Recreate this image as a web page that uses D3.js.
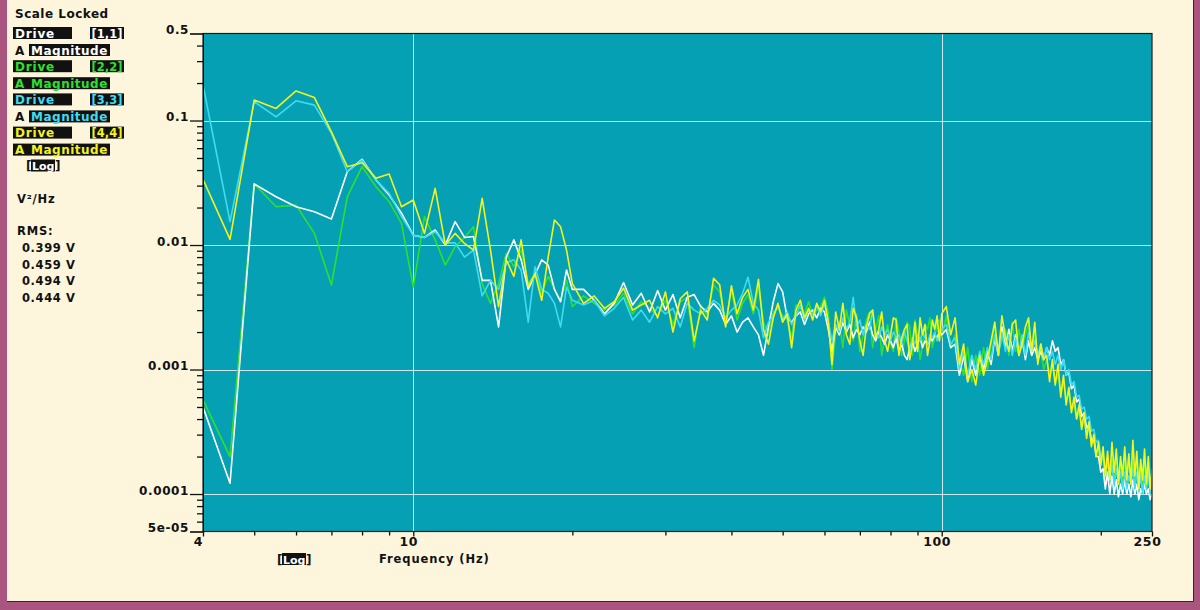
<!DOCTYPE html>
<html>
<head>
<meta charset="utf-8">
<script src="https://cdn.jsdelivr.net/npm/d3@7"></script>
<style>
  body { margin: 0; background: #fdf6dc; }
  svg text { font-family: "DejaVu Sans", sans-serif; font-weight: bold; }
</style>
</head>
<body>
<div id="chart"></div>
<script>
const width = 1200, height = 610;
const plot = { left: 203, right: 1152, top: 33.5, bottom: 531.5 };

// frequency grid of the analyser (Hz)
const freqLow = d3.range(4, 20.01, 0.5);   // 4 .. 20
const freqMid = d3.range(21, 101, 1);      // 21 .. 100
const freqHigh = d3.range(102, 251, 2);    // 102 .. 250
const freq = freqLow.concat(freqMid, freqHigh);

const channels = ["[1,1]", "[2,2]", "[3,3]", "[4,4]"];
const colors = ["#ffffff", "#2ee02e", "#3fdcf0", "#f4f41c"];
const rmsLabels = ["0.399 V", "0.459 V", "0.494 V", "0.444 V"];
const aBoxed = [false, true, false, true];

const yTicks = [0.5, 0.1, 0.01, 0.001, 0.0001, 5e-5];
const yTickLabels = ["0.5", "0.1", "0.01", "0.001", "0.0001", "5e-05"];
const xTicks = [4, 10, 100, 250];
const xTickLabels = ["4", "10", "100", "250"];

// PSD values V^2/Hz, one per frequency
const drive11 = [
  0.0005, 0.000122, 0.031, 0.0244, 0.0203, 0.0185, 0.0162, 0.0388, 0.0488, 0.0333,
  0.0252, 0.018, 0.012, 0.0115, 0.0132, 0.010, 0.0154, 0.0115, 0.0117, 0.0052,
  0.0052, 0.0022, 0.008, 0.011, 0.0076, 0.0044, 0.0058, 0.0076, 0.0069, 0.0044,
  0.0035, 0.0063, 0.0044,
  0.0044, 0.0036, 0.0028, 0.0034, 0.0050, 0.0033, 0.0041, 0.0029, 0.0043, 0.0030, 0.0040, 0.0026, 0.0038, 0.0040,
  0.0032, 0.0029, 0.0034, 0.0030, 0.0023, 0.0027, 0.0020, 0.0024, 0.0026, 0.0022,
  0.0019, 0.0013, 0.0022, 0.0035, 0.0049, 0.0042, 0.0026, 0.0024, 0.0027, 0.0029,
  0.0023, 0.0028, 0.0030, 0.0026, 0.0031, 0.0029,
  0.0021, 0.0014, 0.0022, 0.0019, 0.0024, 0.0020, 0.0023, 0.0018, 0.0021, 0.0019,
  0.0022, 0.0020, 0.0024, 0.0019, 0.0017, 0.0020, 0.0018, 0.0016, 0.0019, 0.0017,
  0.0015, 0.0018, 0.0014, 0.0016, 0.0013, 0.0012, 0.0015, 0.0017, 0.0014, 0.0016,
  0.0018, 0.0015, 0.0017, 0.0016, 0.0018, 0.0017, 0.0019, 0.0018, 0.0020, 0.0019,
  0.0021, 0.0015, 0.0016, 0.0009, 0.0013, 0.0008, 0.0012, 0.0009, 0.0013, 0.0010,
  0.0014, 0.0011, 0.0018, 0.0013, 0.0022, 0.0015, 0.0021, 0.0014, 0.0019, 0.0013,
  0.0018, 0.0012, 0.0017, 0.0013, 0.0015, 0.0012, 0.0014, 0.0012, 0.0015, 0.0013,
  0.0017, 0.0014, 0.0015, 0.0011, 0.0012, 0.0009, 0.00095, 0.0007, 0.00075, 0.00055,
  0.00058, 0.00042, 0.00045, 0.00034, 0.00036, 0.00027, 0.00028, 0.0002, 0.0002, 0.00015,
  0.00016, 0.00011, 0.00015, 0.0001, 0.00014, 0.0001, 0.00013, 0.000095, 0.00012, 0.0001,
  0.00013, 0.0001, 0.00012, 0.000095, 0.00013, 0.0001, 0.00012, 0.00009, 0.00011, 0.0001,
  0.00012, 0.0001, 0.00011, 0.00009, 0.0001
];
const drive22 = [
  0.00057, 0.0002, 0.031, 0.0203, 0.0209, 0.0124, 0.00477, 0.0244, 0.0426, 0.0294,
  0.0223, 0.0149, 0.0046, 0.0169, 0.011, 0.0069, 0.0097, 0.0115, 0.014, 0.0049,
  0.0034, 0.0049, 0.0086, 0.0067, 0.0091, 0.0049, 0.0059, 0.0041, 0.0056, 0.0044,
  0.0036, 0.0052, 0.0032,
  0.0039, 0.0034, 0.0030, 0.0033, 0.0041, 0.0028, 0.0035, 0.0031, 0.0027, 0.0036, 0.0023, 0.0035, 0.0038, 0.0015,
  0.0033, 0.0027, 0.0048, 0.0042, 0.0024, 0.0043, 0.0025, 0.0034, 0.0040, 0.0028,
  0.0046, 0.0024, 0.0019, 0.0029, 0.0031, 0.0027, 0.0025, 0.0018, 0.0033, 0.0031,
  0.0028, 0.0035, 0.0027, 0.0030, 0.0032, 0.0038,
  0.0029, 0.0010, 0.0020, 0.0024, 0.0015, 0.0030, 0.0023, 0.0017, 0.0028, 0.0014,
  0.0019, 0.0025, 0.0029, 0.0015, 0.0021, 0.0027, 0.0013, 0.0018, 0.0023, 0.0016,
  0.0014, 0.0026, 0.0020, 0.0013, 0.0017, 0.0024, 0.0022, 0.0013, 0.0025, 0.0019,
  0.0012, 0.0016, 0.0023, 0.0021, 0.0026, 0.0015, 0.0018, 0.0024, 0.0025, 0.0018,
  0.0027, 0.0015, 0.0019, 0.0012, 0.0009, 0.0015, 0.0008, 0.0013, 0.0009, 0.0015,
  0.0010, 0.0016, 0.0022, 0.0014, 0.0017, 0.0021, 0.0013, 0.0024, 0.0014, 0.0021,
  0.0015, 0.0019, 0.0023, 0.0013, 0.0020, 0.0012, 0.0014, 0.0010, 0.0012, 0.0009,
  0.0011, 0.0008, 0.0009, 0.00065, 0.0008, 0.00058, 0.00064, 0.00048, 0.00052, 0.0004,
  0.00046, 0.00034, 0.0004, 0.0003, 0.00034, 0.00025, 0.00028, 0.00021, 0.00023, 0.00017,
  0.00021, 0.00013, 0.0002, 0.00014, 0.00019, 0.00013, 0.00021, 0.00014, 0.00018, 0.00012,
  0.00019, 0.00013, 0.0002, 0.00014, 0.00018, 0.00012, 0.00019, 0.00013, 0.00017, 0.00011,
  0.00018, 0.00012, 0.00016, 0.0001, 0.00013
];
const drive33 = [
  0.193, 0.0154, 0.142, 0.107, 0.144, 0.133, 0.079, 0.0388, 0.048, 0.0333,
  0.026, 0.0169, 0.012, 0.0115, 0.0128, 0.0104, 0.0104, 0.008, 0.0091, 0.0039,
  0.0052, 0.0044, 0.0072, 0.0076, 0.0063, 0.0024, 0.0067, 0.0044, 0.0041, 0.0034,
  0.0022, 0.0046, 0.0036,
  0.0033, 0.0036, 0.0027, 0.0031, 0.0038, 0.0025, 0.0030, 0.0024, 0.0032, 0.0028, 0.0031, 0.0022, 0.0034, 0.0030,
  0.0028, 0.0031, 0.0036, 0.0033, 0.0026, 0.0030, 0.0033, 0.0041, 0.0055, 0.0034,
  0.0030, 0.0018, 0.0024, 0.0027, 0.0033, 0.0025, 0.0029, 0.0023, 0.0027, 0.0033,
  0.0025, 0.0030, 0.0028, 0.0033, 0.0027, 0.0034,
  0.0024, 0.0017, 0.0023, 0.0020, 0.0026, 0.0021, 0.0024, 0.0038, 0.0022, 0.0025,
  0.0019, 0.0023, 0.0021, 0.0030, 0.0020, 0.0018, 0.0022, 0.0019, 0.0021, 0.0017,
  0.0020, 0.0018, 0.0019, 0.0016, 0.0020, 0.0017, 0.0014, 0.0018, 0.0016, 0.0019,
  0.0017, 0.0020, 0.0018, 0.0016, 0.0019, 0.0018, 0.0020, 0.0017, 0.0019, 0.0021,
  0.0023, 0.0016, 0.0018, 0.0010, 0.0014, 0.0009, 0.0013, 0.0010, 0.0014, 0.0011,
  0.0015, 0.0012, 0.0019, 0.0013, 0.0020, 0.0014, 0.0019, 0.0013, 0.0018, 0.0014,
  0.0019, 0.0013, 0.0020, 0.0014, 0.0017, 0.0013, 0.0016, 0.0012, 0.0015, 0.0012,
  0.0014, 0.0011, 0.0013, 0.0010, 0.0012, 0.0009, 0.001, 0.00075, 0.0008, 0.0006,
  0.00062, 0.00048, 0.0005, 0.0004, 0.00042, 0.00032, 0.00033, 0.00026, 0.00027, 0.0002,
  0.0002, 0.00015, 0.00018, 0.00013, 0.00017, 0.00012, 0.00016, 0.00012, 0.00015, 0.00011,
  0.00015, 0.00011, 0.00014, 0.00012, 0.00016, 0.00011, 0.00015, 0.00011, 0.00014, 0.0001,
  0.00014, 0.00011, 0.00015, 0.0001, 0.00013
];
const drive44 = [
  0.0337, 0.0111, 0.146, 0.125, 0.173, 0.153, 0.081, 0.0426, 0.0458, 0.0344,
  0.0372, 0.0203, 0.023, 0.0124, 0.0285, 0.010, 0.0124, 0.0103, 0.0091, 0.0237,
  0.0091, 0.0032, 0.0076, 0.0056, 0.011, 0.0046, 0.0059, 0.0036, 0.008, 0.0159,
  0.014, 0.0091, 0.0049,
  0.0034, 0.0039, 0.0031, 0.0035, 0.0045, 0.0030, 0.0033, 0.0036, 0.0026, 0.0042, 0.0020, 0.0037, 0.0042, 0.0017,
  0.0030, 0.0025, 0.0054, 0.0048, 0.0022, 0.0047, 0.0028, 0.0038, 0.0044, 0.0030,
  0.0053, 0.0021, 0.0016, 0.0026, 0.0034, 0.0024, 0.0028, 0.0015, 0.0030, 0.0036,
  0.0026, 0.0031, 0.0025, 0.0034, 0.0029, 0.0036,
  0.0024, 0.0011, 0.0029, 0.0021, 0.0034, 0.0019, 0.0016, 0.0031, 0.0026, 0.0017,
  0.0013, 0.0022, 0.0028, 0.0030, 0.0018, 0.0021, 0.0029, 0.0017, 0.0014, 0.0019,
  0.0026, 0.0025, 0.0013, 0.0018, 0.0021, 0.0023, 0.0012, 0.0016, 0.0024, 0.0014,
  0.0026, 0.0019, 0.0023, 0.0013, 0.0017, 0.0025, 0.0021, 0.0027, 0.0017, 0.0028,
  0.0032, 0.0019, 0.0026, 0.0011, 0.0016, 0.0008, 0.0010, 0.00075, 0.0013, 0.0009,
  0.0012, 0.0017, 0.0024, 0.0013, 0.0027, 0.0018, 0.0014, 0.0023, 0.0025, 0.0013,
  0.0016, 0.0022, 0.0026, 0.0014, 0.0024, 0.0011, 0.0016, 0.0012, 0.0013, 0.0008,
  0.0012, 0.00075, 0.0011, 0.0006, 0.0009, 0.00052, 0.00072, 0.00045, 0.0006, 0.0004,
  0.00052, 0.00033, 0.00045, 0.00028, 0.00038, 0.00024, 0.0003, 0.0002, 0.00026, 0.00017,
  0.00024, 0.00014, 0.00022, 0.00013, 0.00026, 0.00015, 0.00023, 0.00012, 0.0002, 0.00014,
  0.00024, 0.00013, 0.00021, 0.00012, 0.00027, 0.00014, 0.00022, 0.00011, 0.00019, 0.00013,
  0.00023, 0.00012, 0.0002, 0.00011, 0.00016
];
const seriesValues = [drive11, drive22, drive33, drive44];
const drawOrder = [1, 0, 2, 3]; // green, white, cyan, yellow on top

const svg = d3.select("#chart").append("svg")
  .attr("width", width).attr("height", height);

// window frame
svg.append("rect").attr("width", width).attr("height", height).attr("fill", "#a9557f");
svg.append("rect").attr("x", 7).attr("y", 0).attr("width", 1186).attr("height", 601)
  .attr("fill", "#fdf6dc");
svg.append("path").attr("d", "M1193.5,0V601.5H7").attr("fill", "none").attr("stroke", "#3b2230");

const x = d3.scaleLog().domain([4, 250]).range([plot.left, plot.right]);
const y = d3.scaleLog().domain([5e-5, 0.5]).range([plot.bottom, plot.top]);

svg.append("rect")
  .attr("x", plot.left).attr("y", plot.top)
  .attr("width", plot.right - plot.left).attr("height", plot.bottom - plot.top)
  .attr("fill", "#06a0b4");

svg.append("clipPath").attr("id", "clip").append("rect")
  .attr("x", plot.left).attr("y", plot.top)
  .attr("width", plot.right - plot.left).attr("height", plot.bottom - plot.top);

// grid
const grid = svg.append("g").attr("stroke", "#cfe6ea").attr("stroke-width", 1);
grid.selectAll(".gy").data([0.1, 0.01, 0.001, 0.0001]).join("line")
  .attr("x1", plot.left).attr("x2", plot.right)
  .attr("y1", d => Math.round(y(d)) + 0.5).attr("y2", d => Math.round(y(d)) + 0.5);
grid.selectAll(".gx").data([10, 100]).join("line")
  .attr("y1", plot.top).attr("y2", plot.bottom)
  .attr("x1", d => Math.round(x(d)) + 0.5).attr("x2", d => Math.round(x(d)) + 0.5);

// data lines
const line = d3.line()
  .x(d => x(d[0]))
  .y(d => y(d[1]));

const lines = svg.append("g").attr("clip-path", "url(#clip)");
for (const i of drawOrder) {
  const vals = seriesValues[i];
  const pts = freq.slice(0, vals.length).map((f, k) => [f, vals[k]]);
  lines.append("path")
    .datum(pts)
    .attr("d", line)
    .attr("fill", "none")
    .attr("stroke", colors[i])
    .attr("stroke-width", 1.6)
    .attr("stroke-linejoin", "round");
}

// plot frame
svg.append("rect")
  .attr("x", plot.left).attr("y", plot.top)
  .attr("width", plot.right - plot.left).attr("height", plot.bottom - plot.top)
  .attr("fill", "none").attr("stroke", "#1a1a1a").attr("stroke-width", 1.2);

// y axis
const yMinor = [];
for (const dec of [1e-5, 1e-4, 1e-3, 1e-2, 1e-1]) {
  for (let m = 2; m <= 9; m++) {
    const v = m * dec;
    if (v > 5e-5 && v < 0.5) yMinor.push(v);
  }
}
svg.append("g")
  .attr("transform", `translate(${plot.left},0)`)
  .call(d3.axisLeft(y).tickValues(yMinor).tickSize(6).tickFormat(""))
  .call(g => g.select(".domain").remove())
  .call(g => g.selectAll("line").attr("stroke", "#111").attr("stroke-width", 1.3));

svg.append("g")
  .attr("transform", `translate(${plot.left},0)`)
  .call(d3.axisLeft(y).tickValues(yTicks).tickSize(13).tickPadding(1)
    .tickFormat((d, i) => yTickLabels[i]))
  .call(g => g.select(".domain").attr("stroke", "#111"))
  .call(g => g.selectAll("line").attr("stroke", "#111").attr("stroke-width", 1.3))
  .call(g => g.selectAll("text").attr("dy", "0").attr("fill", "#111")
    .style("font-size", "12px").style("letter-spacing", "0.6px"));

// x axis
const xMinor = [5, 6, 7, 8, 9, 20, 30, 40, 50, 60, 70, 80, 90, 200];
svg.append("g")
  .attr("transform", `translate(0,${plot.bottom})`)
  .call(d3.axisBottom(x).tickValues(xMinor).tickSize(4).tickFormat(""))
  .call(g => g.select(".domain").remove())
  .call(g => g.selectAll("line").attr("stroke", "#111").attr("stroke-width", 1.3));

svg.append("g")
  .attr("transform", `translate(0,${plot.bottom})`)
  .call(d3.axisBottom(x).tickValues(xTicks).tickSize(5).tickPadding(1)
    .tickFormat((d, i) => xTickLabels[i]))
  .call(g => g.select(".domain").remove())
  .call(g => g.selectAll("line").attr("stroke", "#111").attr("stroke-width", 1.3))
  .call(g => g.selectAll("text").attr("dx", "-5").attr("fill", "#111")
    .style("font-size", "12.5px").style("letter-spacing", "0.6px"));

// bottom labels
const logBox = (gx, gy) => {
  const g = svg.append("g").attr("transform", `translate(${gx},${gy})`);
  g.append("rect").attr("x", 5).attr("y", 0).attr("width", 24).attr("height", 12).attr("fill", "#111");
  g.append("text").attr("x", 0).attr("y", 10.5).attr("fill", "#111")
    .style("font-size", "12px").text("[");
  g.append("text").attr("x", 6).attr("y", 10.5).attr("fill", "#fff")
    .style("font-size", "11px").text("Log");
  g.append("text").attr("x", 29).attr("y", 10.5).attr("fill", "#111")
    .style("font-size", "12px").text("]");
};
logBox(277, 553);
svg.append("text").attr("x", 379).attr("y", 563).attr("fill", "#111")
  .style("font-size", "11.5px").style("letter-spacing", "0.9px").text("Frequency (Hz)");

// legend panel
svg.append("text").attr("x", 15).attr("y", 18).attr("fill", "#111")
  .style("font-size", "12px").style("letter-spacing", "0.5px").text("Scale Locked");

channels.forEach((ch, i) => {
  const y0 = 27 + i * 33.2;
  const y1 = 44 + i * 33.2;
  const c = colors[i];
  svg.append("rect").attr("x", 13).attr("y", y0).attr("width", 59).attr("height", 12).attr("fill", "#111");
  svg.append("text").attr("x", 15).attr("y", y0 + 10.5).attr("fill", c)
    .style("font-size", "12px").style("letter-spacing", "0.8px").text("Drive");
  svg.append("rect").attr("x", 90).attr("y", y0).attr("width", 34).attr("height", 12).attr("fill", "#111");
  svg.append("text").attr("x", 91.5).attr("y", y0 + 10.5).attr("fill", c)
    .style("font-size", "11.5px").text(ch);

  if (aBoxed[i]) {
    svg.append("rect").attr("x", 13).attr("y", y1).attr("width", 97).attr("height", 12).attr("fill", "#111");
  } else {
    svg.append("rect").attr("x", 29).attr("y", y1).attr("width", 81).attr("height", 12).attr("fill", "#111");
  }
  svg.append("text").attr("x", 15).attr("y", y1 + 10.5).attr("fill", aBoxed[i] ? c : "#111")
    .style("font-size", "12px").text("A");
  svg.append("text").attr("x", 31).attr("y", y1 + 10.5).attr("fill", c)
    .style("font-size", "12px").style("letter-spacing", "0.5px").text("Magnitude");
});
logBox(26, 159.5);

svg.append("text").attr("x", 17).attr("y", 203).attr("fill", "#111")
  .style("font-size", "11.5px").style("letter-spacing", "0.8px").text("V²/Hz");
svg.append("text").attr("x", 17).attr("y", 235).attr("fill", "#111")
  .style("font-size", "11.5px").style("letter-spacing", "0.8px").text("RMS:");
svg.selectAll(".rms").data(rmsLabels).join("text")
  .attr("x", 22).attr("y", (d, i) => 252 + i * 16.5).attr("fill", "#111")
  .style("font-size", "11.5px").style("letter-spacing", "0.6px").text(d => d);
</script>
</body>
</html>
